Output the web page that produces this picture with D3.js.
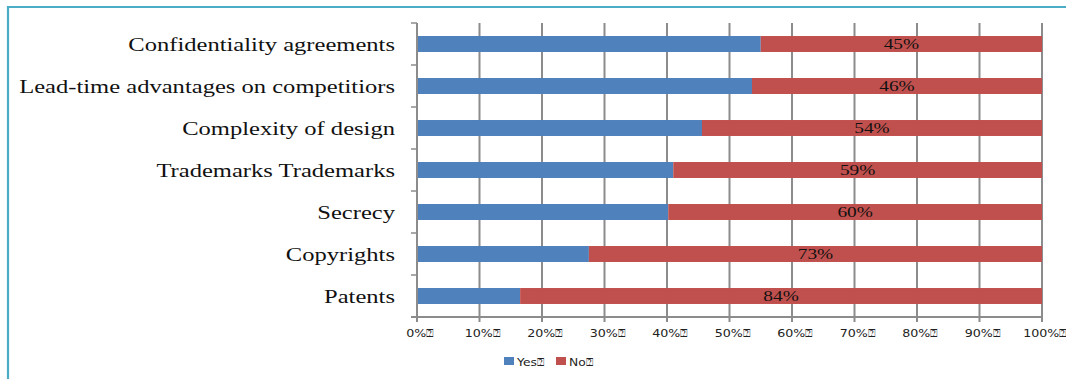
<!DOCTYPE html>
<html>
<head>
<meta charset="utf-8">
<script src="https://cdn.jsdelivr.net/npm/d3@7"></script>
<style>
  body { margin: 0; background: #fff; }
  svg { display: block; }
</style>
</head>
<body>
<svg width="1066" height="379"></svg>
<script>
var categories = ["Confidentiality agreements", "Lead-time advantages on competitiors", "Complexity of design",
                  "Trademarks Trademarks", "Secrecy", "Copyrights", "Patents"]
var yesValues = [55, 53.6, 45.6, 41, 40.2, 27.5, 16.5]
var noValues = [45, 46, 54, 59, 60, 73, 84]
var tickLabels = ["0%", "10%", "20%", "30%", "40%", "50%", "60%", "70%", "80%", "90%", "100%"]
var seriesNames = ["Yes", "No"]
var box = "\u2370"

var svg = d3.select("svg")
var margins = {top: 23, left: 417, right: 24, bottom: 62}
var width = 1066 - margins.left - margins.right
var height = 379 - margins.top - margins.bottom

// frame
svg.append("path")
   .attr("d", "M8,379 V7 H1066")
   .attr("fill", "none")
   .attr("stroke", "#4bacc6")
   .attr("stroke-width", 2.2)

var xScale = d3.scaleLinear().domain([0, 100]).range([0, width])
var yScale = d3.scaleBand().domain(categories).range([0, height]).paddingInner(0.62).paddingOuter(0.31)

var g = svg.append("g").attr("transform", "translate(" + margins.left + "," + margins.top + ")")

// grid lines + ticks
g.selectAll("line.grid")
 .data(d3.range(0, 101, 10))
 .enter()
 .append("line")
 .attr("x1", function(d){return xScale(d);})
 .attr("x2", function(d){return xScale(d);})
 .attr("y1", 0)
 .attr("y2", height + 5)
 .attr("stroke", "#8c8c8c")
 .attr("stroke-width", 2)

// bars (100% stacked: No fills what Yes leaves)
var rows = categories.map(function(c, i){return {cat: c, yes: yesValues[i], no: noValues[i]};})

g.selectAll("rect.yes")
 .data(rows)
 .enter()
 .append("rect")
 .attr("x", 0)
 .attr("y", function(d){return yScale(d.cat);})
 .attr("width", function(d){return xScale(d.yes);})
 .attr("height", yScale.bandwidth())
 .attr("fill", "#4f81bd")

g.selectAll("rect.no")
 .data(rows)
 .enter()
 .append("rect")
 .attr("x", function(d){return xScale(d.yes);})
 .attr("y", function(d){return yScale(d.cat);})
 .attr("width", function(d){return xScale(100 - d.yes);})
 .attr("height", yScale.bandwidth())
 .attr("fill", "#c0504d")

// the source picture is stretched sideways, so text gets a horizontal scale
g.selectAll("text.val")
 .data(rows)
 .enter()
 .append("text")
 .attr("transform", function(d){
   return "translate(" + xScale((d.yes + 100) / 2) + "," + (yScale(d.cat) + yScale.bandwidth() / 2 + 5) + ") scale(1.38,1)";
 })
 .attr("text-anchor", "middle")
 .attr("font-family", "Liberation Serif, Times New Roman, serif")
 .attr("font-size", 14)
 .attr("fill", "#111")
 .text(function(d){return d.no + "%";})

// y axis
g.append("line")
 .attr("x1", 0).attr("x2", 0).attr("y1", 0).attr("y2", height)
 .attr("stroke", "#8c8c8c").attr("stroke-width", 2)

g.selectAll("line.ytick")
 .data(d3.range(categories.length + 1))
 .enter()
 .append("line")
 .attr("x1", -6).attr("x2", 0)
 .attr("y1", function(i){return i * height / categories.length;})
 .attr("y2", function(i){return i * height / categories.length;})
 .attr("stroke", "#8c8c8c").attr("stroke-width", 1.5)

g.selectAll("text.cat")
 .data(categories)
 .enter()
 .append("text")
 .attr("transform", function(d){
   return "translate(-22," + (yScale(d) + yScale.bandwidth() / 2 + 6.5) + ") scale(1.26,1)";
 })
 .attr("text-anchor", "end")
 .attr("font-family", "Liberation Serif, Times New Roman, serif")
 .attr("font-size", 19.5)
 .attr("fill", "#111")
 .text(function(d){return d;})

// x axis
g.append("line")
 .attr("x1", -6).attr("x2", width).attr("y1", height).attr("y2", height)
 .attr("stroke", "#8c8c8c").attr("stroke-width", 2)

g.selectAll("text.tick")
 .data(tickLabels)
 .enter()
 .append("text")
 .attr("transform", function(d, i){return "translate(" + (xScale(i * 10) + 3) + "," + (height + 20) + ") scale(1.15,1)";})
 .attr("text-anchor", "middle")
 .attr("font-family", "DejaVu Sans, Verdana, sans-serif")
 .attr("font-size", 11)
 .attr("fill", "#222")
 .text(function(d){return d + box;})

// legend
var legendColors = ["#4f81bd", "#c0504d"]
var legendX = [504, 556]
var legend = svg.selectAll("g.legend")
   .data(seriesNames)
   .enter()
   .append("g")
   .attr("transform", function(d, i){return "translate(" + legendX[i] + ",357)";})
legend.append("rect")
   .attr("width", 10).attr("height", 8)
   .attr("fill", function(d, i){return legendColors[i];})
legend.append("text")
   .attr("transform", "translate(13,9) scale(1.12,1)")
   .attr("font-family", "DejaVu Sans, Verdana, sans-serif")
   .attr("font-size", 11)
   .attr("fill", "#222")
   .text(function(d){return d + box;})
</script>
</body>
</html>
